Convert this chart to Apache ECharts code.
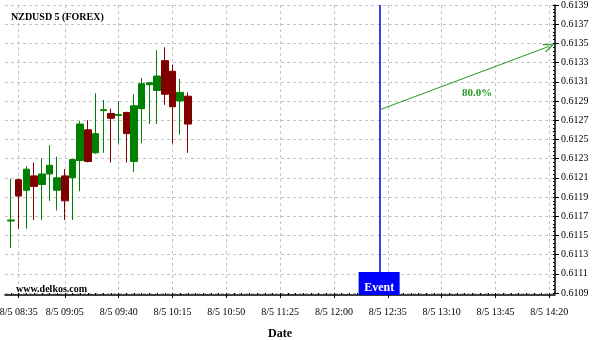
<!DOCTYPE html>
<html><head><meta charset="utf-8">
<script src="https://cdn.jsdelivr.net/npm/echarts@6/dist/echarts.min.js"></script>
<style>html,body{margin:0;padding:0;background:#fff}#c{width:600px;height:340px}</style>
</head><body><div id="c"></div>
<script>
// ---- data ----
const candleTimes = ['08:30','08:35','08:40','08:45','08:50','08:55','09:00','09:05','09:10','09:15','09:20','09:25',
                     '09:30','09:35','09:40','09:45','09:50','09:55','10:00','10:05','10:10','10:15','10:20','10:25'];
const openP  = [0.61165,0.61208,0.61197,0.61212,0.61203,0.61214,0.61197,0.61212,0.61210,0.61228,0.61260,0.61236,
                0.61280,0.61277,0.61275,0.61278,0.61227,0.61282,0.61307,0.61301,0.61332,0.61321,0.61290,0.61295];
const closeP = [0.61166,0.61191,0.61219,0.61201,0.61214,0.61223,0.61210,0.61186,0.61229,0.61266,0.61227,0.61256,
                0.61281,0.61272,0.61276,0.61256,0.61285,0.61308,0.61309,0.61316,0.61297,0.61284,0.61299,0.61266];
const lowP   = [0.61137,0.61157,0.61157,0.61166,0.61166,0.61186,0.61176,0.61166,0.61166,0.61196,0.61226,0.61235,
                0.61236,0.61226,0.61246,0.61226,0.61216,0.61246,0.61266,0.61266,0.61286,0.61246,0.61255,0.61236];
const highP  = [0.61209,0.61209,0.61222,0.61226,0.61230,0.61244,0.61232,0.61219,0.61230,0.61269,0.61270,0.61298,
                0.61291,0.61282,0.61290,0.61279,0.61297,0.61314,0.61309,0.61343,0.61346,0.61328,0.61313,0.61299];
const xTickLabels = ['08:35','09:05','09:40','10:15','10:50','11:25','12:00','12:35','13:10','13:45','14:20'];
const eventTime = '12:30';
const forecastEndTime = '14:20';
const forecastStartPrice = 0.61281;
const forecastEndPrice = 0.61347;
const forecastText = '80.0%';
const forecastTextTime = '13:33';
const forecastTextPrice = 0.61298;
const yMin = 0.6109, yMax = 0.6139, yStep = 0.0002;

// ---- helpers ----
const BASE = 8*60+30;
function toMin(t){ const p = t.split(':').map(Number); return p[0]*60 + p[1] - BASE; }
function fmt(v){ const t = Math.round(v) + BASE; return '8/5 ' + String(Math.floor(t/60)).padStart(2,'0') + ':' + String(t%60).padStart(2,'0'); }
const FONT = 'Liberation Serif';
const xMin = -3.9, xMax = 353.7;
const labelVals = xTickLabels.map(toMin);
const smallTicks = []; for (let v = 0; v <= toMin(forecastEndTime); v += 5) smallTicks.push(v);
const candles = candleTimes.map((t,i)=>[toMin(t), openP[i], closeP[i], lowP[i], highP[i]]);
const green = '#008000', red = '#800000', fgreen = '#229922';
const gridBox = {left: 5, right: 45, top: 5, bottom: 47, outerBoundsMode: 'none', containLabel: false};

const chart = echarts.init(document.getElementById('c'), null, {renderer:'canvas'});
chart.setOption({
  animation: false,
  backgroundColor: '#fff',
  title: [
    {text: 'NZDUSD 5 (FOREX)', left: 11, top: 12, padding: 0,
     textStyle: {fontFamily: FONT, fontSize: 10, fontWeight: 'bold', color: '#000'}},
    {text: 'www.delkos.com', left: 16, top: 284, padding: 0,
     textStyle: {fontFamily: FONT, fontSize: 10, fontWeight: 'bold', color: '#000'}}
  ],
  grid: [Object.assign({}, gridBox), Object.assign({}, gridBox)],
  xAxis: [
    {type: 'value', gridIndex: 0, min: xMin, max: xMax, offset: 2, position: 'bottom',
     name: 'Date', nameLocation: 'middle', nameGap: 33,
     nameTextStyle: {fontFamily: FONT, fontSize: 12, fontWeight: 'bold', color: '#000'},
     axisLine: {show: true, onZero: false, lineStyle: {color: '#000', width: 1.5}},
     axisTick: {show: true, customValues: labelVals, length: 3, lineStyle: {color: '#000'}},
     axisLabel: {customValues: labelVals, formatter: fmt, fontFamily: FONT, fontSize: 10, color: '#000', margin: 12},
     splitLine: {show: true, lineStyle: {color: '#c4c4c4', type: [3,3], width: 1}}},
    {type: 'value', gridIndex: 1, min: xMin, max: xMax, offset: 2, position: 'bottom',
     axisLine: {show: false, onZero: false}, axisLabel: {show: false}, splitLine: {show: false},
     axisTick: {show: true, inside: true, length: 2, customValues: smallTicks, lineStyle: {color: '#000'}}}
  ],
  yAxis: [
    {type: 'value', gridIndex: 0, position: 'right', min: yMin, max: yMax, interval: yStep,
     axisLine: {show: true, onZero: false, lineStyle: {color: '#000', width: 1.5}},
     axisTick: {show: true, length: 4, lineStyle: {color: '#000'}},
     axisLabel: {formatter: v => v.toFixed(4), fontFamily: FONT, fontSize: 10, color: '#000', margin: 6},
     splitLine: {show: true, lineStyle: {color: '#c4c4c4', type: [3,3], width: 1}}},
    {type: 'value', gridIndex: 1, position: 'right', min: yMin, max: yMax, interval: yStep,
     axisLine: {show: false, onZero: false}, axisLabel: {show: false}, splitLine: {show: false},
     axisTick: {show: true, inside: true, length: 2, lineStyle: {color: '#000'}},
     minorTick: {show: true, splitNumber: 5, length: 2, lineStyle: {color: '#000'}}}
  ],
  series: [{
    type: 'candlestick',
    xAxisIndex: 0, yAxisIndex: 0,
    data: candles,
    encode: {x: 0, y: [1,2,3,4]},
    barWidth: 7,
    itemStyle: {color: green, color0: red, borderColor: green, borderColor0: red, borderWidth: 1},
    markLine: {
      silent: true, animation: false,
      data: [
        [{coord: [toMin(eventTime), yMax], symbol: 'none', lineStyle: {color: '#0000e0', width: 1.5, type: 'solid'}},
         {coord: [toMin(eventTime), yMin], symbol: 'none'}],
        [{coord: [toMin(eventTime), forecastStartPrice], symbol: 'none', lineStyle: {color: fgreen, width: 1, type: 'solid'}},
         {coord: [toMin(forecastEndTime), forecastEndPrice],
          symbol: 'path://M0,10 L5,0 L10,10 L8.6,10 L5,2.6 L1.4,10 Z', symbolSize: [9, 11]}]
      ],
      label: {show: false}
    },
    markPoint: {
      silent: true, animation: false,
      data: [
        {coord: [toMin(eventTime), yMin], symbol: 'rect', symbolSize: [41, 23], symbolOffset: [-1, -9.5],
         itemStyle: {color: '#0000ff'},
         label: {show: true, formatter: 'Event', color: '#fff', fontFamily: FONT, fontSize: 12, fontWeight: 'bold', offset: [0, 4]}},
        {coord: [toMin(forecastTextTime), forecastTextPrice], symbol: 'circle', symbolSize: 1,
         itemStyle: {color: 'rgba(0,0,0,0)'},
         label: {show: true, formatter: forecastText, color: fgreen, fontFamily: FONT, fontSize: 11, fontWeight: 'bold', position: 'inside'}}
      ]
    }
  }]
});
</script></body></html>
